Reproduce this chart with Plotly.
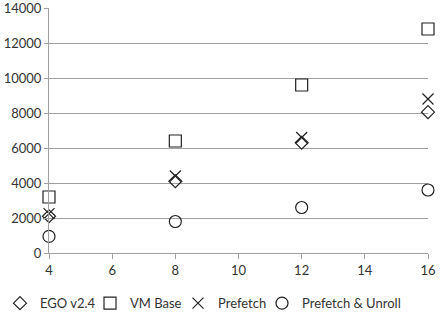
import plotly.graph_objects as go

x_vals = [4, 8, 12, 16]
ego = [2100, 4100, 6300, 8050]
vm_base = [3200, 6400, 9600, 12800]
prefetch = [2250, 4400, 6600, 8800]
prefetch_unroll = [950, 1800, 2600, 3600]
y_ticks = [0, 2000, 4000, 6000, 8000, 10000, 12000, 14000]
x_ticks = [4, 6, 8, 10, 12, 14, 16]

series = [
    ("EGO v2.4", ego, "diamond-open", 10, "legend"),
    ("VM Base", vm_base, "square-open", 12, "legend2"),
    ("Prefetch", prefetch, "x-thin-open", 11, "legend3"),
    ("Prefetch & Unroll", prefetch_unroll, "circle-open", 12, "legend4"),
]
legend_x = [-0.1293, 0.1082, 0.3404, 0.5620]

fig = go.Figure()
for name, ys, sym, sz, lg in series:
    fig.add_trace(go.Scatter(
        x=x_vals, y=ys, mode="markers", name=name, cliponaxis=False,
        legend=lg, showlegend=True,
        marker=dict(symbol=sym, size=sz, color="#222",
                    line=dict(color="#222", width=1.2)),
    ))

font = dict(family="Lato, Liberation Sans, sans-serif", size=12, color="#333")
leg_common = dict(orientation="h", y=-0.205, yanchor="middle", xanchor="left",
                  font=dict(size=13), itemwidth=30, borderwidth=0,
                  bgcolor="rgba(0,0,0,0)")
fig.update_layout(
    width=440, height=316,
    margin=dict(l=49, r=12, t=8, b=63, autoexpand=False),
    plot_bgcolor="white", paper_bgcolor="white",
    font=font,
    legend=dict(x=legend_x[0], **leg_common),
    legend2=dict(x=legend_x[1], **leg_common),
    legend3=dict(x=legend_x[2], **leg_common),
    legend4=dict(x=legend_x[3], **leg_common),
    xaxis=dict(range=[4, 16], tickvals=x_ticks,
               showgrid=False, showline=True, linecolor="#a0a0a0", linewidth=1,
               ticks="outside", ticklen=5, tickcolor="#a0a0a0", zeroline=False,
               tickfont=dict(size=13), automargin=False),
    yaxis=dict(range=[0, 14000], tickmode="array", tickvals=y_ticks,
               ticktext=[str(v) for v in y_ticks], ticklabeloverflow="allow",
               showgrid=True, gridcolor="#a0a0a0", gridwidth=1,
               showline=True, linecolor="#a0a0a0", linewidth=1,
               ticks="outside", ticklen=4, tickcolor="#a0a0a0", zeroline=False,
               tickfont=dict(size=13), automargin=False),
)

fig.write_html("out.html")
